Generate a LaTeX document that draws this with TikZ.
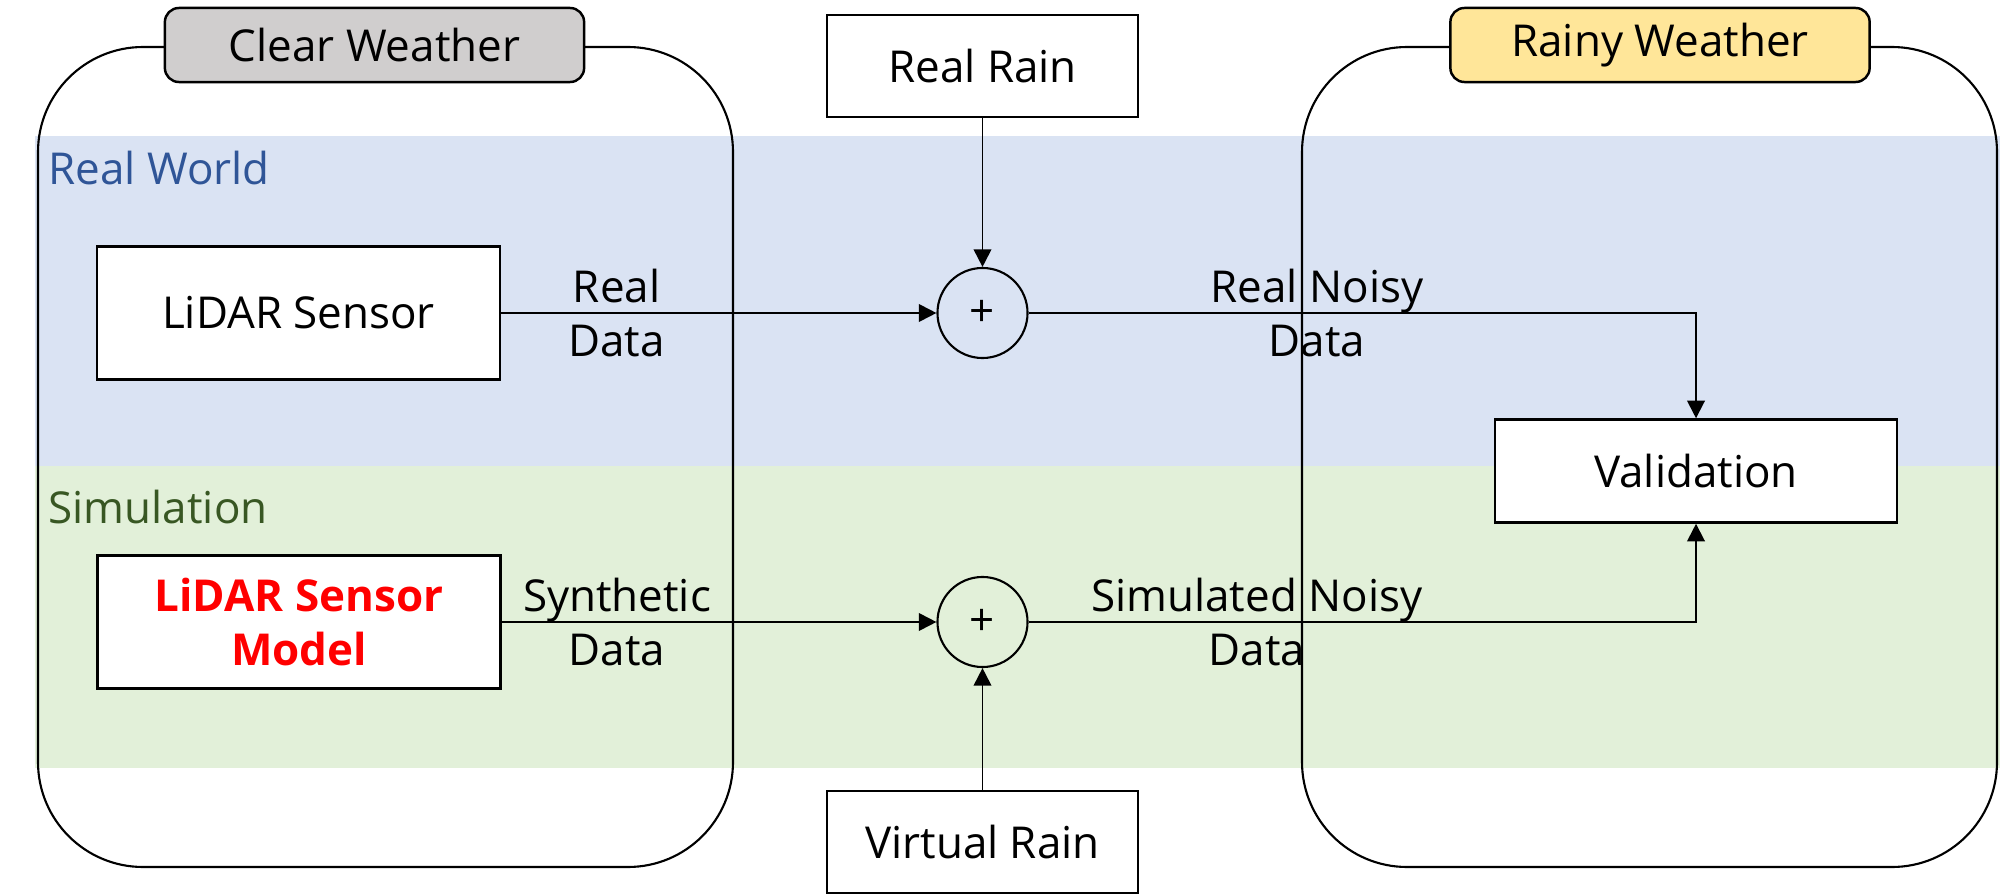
\documentclass[tikz,border=0pt]{standalone}
\usepackage{fontspec}
\setmainfont{Open Sans}
\usetikzlibrary{arrows.meta, positioning}
\definecolor{realblue}{RGB}{218, 227, 243}
\definecolor{simgreen}{RGB}{226, 240, 217}
\definecolor{cleargray}{RGB}{208, 206, 206}
\definecolor{rainyellow}{RGB}{255, 230, 153}
\definecolor{realtext}{RGB}{47, 85, 151}
\definecolor{simtext}{RGB}{56, 87, 35}

\begin{document}
\begin{tikzpicture}[x=0.01cm, y=-0.01cm, font=\fontsize{12.5}{15.6}\selectfont,
  block/.style={draw, fill=white, line width=0.7pt, minimum width=4.03cm, minimum height=1.33cm, align=center},
  rainbox/.style={draw, fill=white, line width=0.7pt, minimum width=3.11cm, minimum height=1.02cm},
  tab/.style={draw, rounded corners=4pt, line width=0.7pt, minimum width=4.19cm, minimum height=0.74cm},
  sum/.style={draw, circle, minimum size=0.9cm, inner sep=0pt, line width=0.6pt},
  flow/.style={-{Triangle[width=5pt, length=5pt]}, line width=0.55pt},
  lbl/.style={align=center, inner sep=0pt}]
  \useasboundingbox (0,0) rectangle (2000,894);

  \foreach \ya/\yb/\c in {136/466/realblue, 466/768/simgreen} {
    \fill[\c] (35,\ya) rectangle (2000,\yb);
  }
  \foreach \xa/\xb in {38/733, 1302/1997} {
    \draw[line width=0.6pt, rounded corners=1.05cm] (\xa,47) rectangle (\xb,867);
  }
  \foreach \x/\c/\t/\n in {374.5/cleargray/Clear Weather/clear, 1660/rainyellow/Rainy Weather/rainy} {
    \node[tab, fill=\c] (\n) at (\x,45) {\t};
  }

  \node[anchor=base west, inner sep=0pt, text=realtext] (realworld) at (48,185) {Real World};
  \node[anchor=base west, inner sep=0pt, text=simtext] (simulation) at (48,523) {Simulation};

  \node[block] (sensor) at (298.5,313) {LiDAR Sensor};
  \node[block, text=red, font=\fontsize{12.5}{15.6}\selectfont\bfseries] (model) at (299,622) {LiDAR Sensor\\Model};
  \node[rainbox] (realrain) at (982.5,66) {Real Rain};
  \node[rainbox] (virtualrain) at (982.5,842) {Virtual Rain};
  \node[sum] (sumreal) at (982.5,313) {+};
  \node[sum] (sumsim) at (982.5,622) {+};
  \node[block, minimum width=4.02cm, minimum height=1.03cm] (validation) at (1696,471) {Validation};

  \draw[flow] (sensor) -- node[lbl, pos=0.265] {Real\\Data} (sumreal);
  \draw[flow] (model) -- node[lbl, pos=0.265] {Synthetic\\Data} (sumsim);
  \draw[flow] (realrain) -- (sumreal);
  \draw[flow] (virtualrain) -- (sumsim);
  \draw[flow] (sumreal) -| node[lbl, pos=0.216] {Real Noisy\\Data} (validation);
  \draw[flow] (sumsim) -| node[lbl, pos=0.171] {Simulated Noisy\\Data} (validation);
\end{tikzpicture}
\end{document}
